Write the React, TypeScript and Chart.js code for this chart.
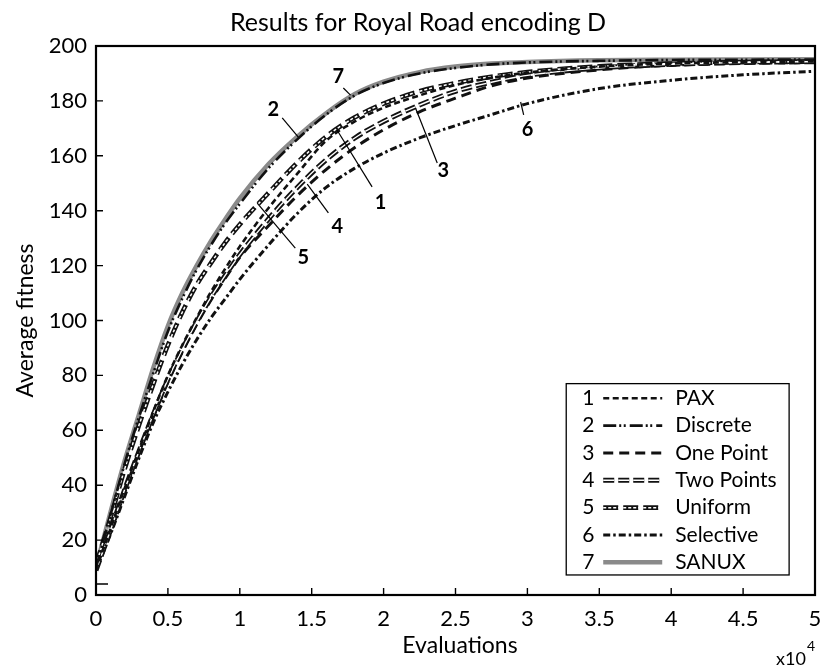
import React, { useEffect, useRef } from 'react';
import { Chart, registerables } from 'chart.js';

Chart.register(...registerables);

// ---- data (evaluations in units of 10^4) ----
const evaluations = [0, 0.1, 0.2, 0.3, 0.4, 0.5, 0.6, 0.7, 0.8, 0.9, 1.0, 1.2, 1.4, 1.6, 1.8, 2.0, 2.25, 2.5, 2.75, 3.0, 3.5, 4.0, 4.5, 5.0];

const paxFitness = [9, 24, 39, 53, 67, 80, 91, 101, 110.5, 119, 127, 141, 153.5, 165.5, 172.5, 177.5, 182, 185.8, 188.4, 190.3, 192.5, 193.6, 194.1, 194.4];
const discreteFitness = [10, 29, 48, 65, 81, 96, 108, 118.5, 127.5, 135.5, 142.5, 155.5, 166, 175, 182, 186.5, 190, 192, 193.3, 194, 194.6, 194.9, 195, 195.1];
const onePointFitness = [9, 23, 38, 52, 65, 77.5, 88.5, 98.5, 107.5, 115.5, 123, 134.5, 145.5, 155, 163, 169.5, 176, 181, 185.5, 188.3, 191.3, 193, 193.7, 194];
const twoPointsFitness = [9, 23.5, 38.5, 52.5, 66, 78.5, 89.5, 99.5, 108.5, 116.5, 124, 137, 148.5, 158.5, 166.5, 172.5, 178.5, 183.5, 186.8, 189.3, 192, 193.3, 194, 194.3];
const uniformFitness = [11, 28, 46, 62, 77, 91, 103, 113, 121, 128.5, 135, 146.5, 157.5, 167, 174, 179, 183.5, 186.5, 188.8, 190.5, 192.6, 193.6, 194.1, 194.4];
const selectiveFitness = [9, 22, 36, 50, 63, 74, 84, 93, 101, 108, 115, 127.5, 139, 148.5, 155.5, 161, 166.5, 171, 175, 179, 184.5, 187.5, 189.5, 190.8];
const sanuxFitness = [10, 30, 49, 66, 83, 98, 110, 120, 129, 137, 144.5, 157, 167, 175.5, 182.5, 187, 190.5, 192.5, 193.6, 194.2, 194.8, 195, 195.1, 195.2];

const seriesIds = ['1', '2', '3', '4', '5', '6', '7'];
const seriesNames = ['PAX', 'Discrete', 'One Point', 'Two Points', 'Uniform', 'Selective', 'SANUX'];
const seriesValues = [paxFitness, discreteFitness, onePointFitness, twoPointsFitness, uniformFitness, selectiveFitness, sanuxFitness];

const yTickValues = [0, 20, 40, 60, 80, 100, 120, 140, 160, 180, 200];
const xTickValues = [0, 0.5, 1, 1.5, 2, 2.5, 3, 3.5, 4, 4.5, 5];
const strayTickValue = 4;

// curve labels: label, text position, leader line (data units)
const annoIds = ['7', '2', '1', '4', '5', '3', '6'];
const annoTextX = [1.685, 1.233, 1.978, 1.678, 1.441, 2.416, 3.001];
const annoTextY = [188.7, 176.7, 142.8, 134.1, 123.1, 154.8, 169.4];
const annoFromX = [1.72, 1.295, 1.92, 1.616, 1.386, 2.373, 2.974];
const annoFromY = [184.7, 173.8, 148.7, 139.2, 126.4, 157.4, 174.9];
const annoToX = [1.77, 1.407, 1.676, 1.469, 1.121, 2.222, 2.953];
const annoToY = [182.1, 166.8, 169.4, 149.7, 142.8, 177.4, 179.6];

const FONT = "Lato, 'Liberation Sans', sans-serif";

type Style = { color: string; width: number; dash: number[]; overlay?: { width: number; dash: number[] } };
const styles: Style[] = [
  { color: '#111', width: 2.6, dash: [6, 3.5] },
  { color: '#111', width: 2.6, dash: [13, 3, 2, 2.5, 2, 4] },
  { color: '#111', width: 3, dash: [10, 6] },
  { color: '#111', width: 5, dash: [11, 4], overlay: { width: 1.4, dash: [11, 4] } },
  { color: '#111', width: 4.6, dash: [15, 5], overlay: { width: 1.5, dash: [3, 2] } },
  { color: '#111', width: 3, dash: [7, 3, 2.5, 3] },
  { color: '#8a8a8a', width: 4.5, dash: [] },
];
const drawOrder = [3, 2, 5, 4, 4, 6, 9];

const decorPlugin = {
  id: 'decor',
  afterDraw(chart: any) {
    const ctx: CanvasRenderingContext2D = chart.ctx;
    const xs = chart.scales.x;
    const ys = chart.scales.y;
    const a = chart.chartArea;
    ctx.save();
    // box
    ctx.strokeStyle = '#000';
    ctx.lineWidth = 2.2;
    ctx.setLineDash([]);
    ctx.strokeRect(a.left, a.top, a.right - a.left, a.bottom - a.top);
    // inward ticks
    ctx.lineWidth = 1.4;
    ctx.beginPath();
    xTickValues.forEach((v) => {
      const px = xs.getPixelForValue(v);
      ctx.moveTo(px, a.bottom);
      ctx.lineTo(px, a.bottom - 7);
    });
    yTickValues.forEach((v) => {
      const py = ys.getPixelForValue(v);
      ctx.moveTo(a.left, py);
      ctx.lineTo(a.left + 7, py);
    });
    const sp = ys.getPixelForValue(strayTickValue);
    ctx.moveTo(a.left, sp);
    ctx.lineTo(a.left + 12, sp);
    ctx.stroke();

    // curve labels
    ctx.lineWidth = 1.2;
    ctx.strokeStyle = '#000';
    ctx.fillStyle = '#000';
    ctx.font = `bold 20px ${FONT}`;
    ctx.textAlign = 'center';
    ctx.textBaseline = 'middle';
    annoIds.forEach((id, i) => {
      ctx.beginPath();
      ctx.moveTo(xs.getPixelForValue(annoFromX[i]), ys.getPixelForValue(annoFromY[i]));
      ctx.lineTo(xs.getPixelForValue(annoToX[i]), ys.getPixelForValue(annoToY[i]));
      ctx.stroke();
      ctx.fillText(id, xs.getPixelForValue(annoTextX[i]), ys.getPixelForValue(annoTextY[i]));
    });

    // legend
    const lx = xs.getPixelForValue(3.27);
    const lr = xs.getPixelForValue(4.82);
    const lt = ys.getPixelForValue(77);
    const lb = ys.getPixelForValue(7.3);
    ctx.fillStyle = '#fff';
    ctx.fillRect(lx, lt, lr - lx, lb - lt);
    ctx.strokeStyle = '#000';
    ctx.lineWidth = 1.3;
    ctx.strokeRect(lx, lt, lr - lx, lb - lt);
    const rowH = (lb - lt) / 7;
    ctx.font = `21px ${FONT}`;
    ctx.textBaseline = 'middle';
    seriesIds.forEach((id, i) => {
      const cy = lt + rowH * (i + 0.5) + 1;
      ctx.fillStyle = '#000';
      ctx.textAlign = 'center';
      ctx.fillText(id, lx + 22, cy);
      ctx.textAlign = 'left';
      ctx.fillText(seriesNames[i], lx + 109, cy);
      const st = styles[i];
      ctx.strokeStyle = st.color;
      ctx.lineWidth = st.width;
      ctx.setLineDash(st.dash);
      ctx.beginPath();
      ctx.moveTo(lx + 37, cy);
      ctx.lineTo(lx + 96, cy);
      ctx.stroke();
      if (st.overlay) {
        ctx.strokeStyle = '#fff';
        ctx.lineWidth = st.overlay.width;
        ctx.setLineDash(st.overlay.dash);
        ctx.beginPath();
        ctx.moveTo(lx + 37, cy);
        ctx.lineTo(lx + 96, cy);
        ctx.stroke();
      }
    });
    ctx.setLineDash([]);

    // titles
    ctx.fillStyle = '#000';
    ctx.textAlign = 'center';
    ctx.textBaseline = 'middle';
    ctx.font = `25px ${FONT}`;
    ctx.fillText('Results for Royal Road encoding D', 418, 23);
    ctx.font = `23px ${FONT}`;
    ctx.fillText('Evaluations', 460, 646);
    ctx.save();
    ctx.translate(26, (a.top + a.bottom) / 2);
    ctx.rotate(-Math.PI / 2);
    ctx.fillText('Average fitness', 0, 0);
    ctx.restore();
    ctx.textAlign = 'left';
    ctx.font = `18px ${FONT}`;
    ctx.fillText('x10', 776, 659);
    ctx.font = `14px ${FONT}`;
    ctx.fillText('4', 807, 646);
    ctx.restore();
  },
};

export default function App() {
  const ref = useRef<HTMLCanvasElement | null>(null);
  useEffect(() => {
    document.body.style.margin = '0';
    if (!ref.current) return;
    const datasets: any[] = [];
    seriesValues.forEach((vals, i) => {
      const st = styles[i];
      const pts = evaluations.map((x, k) => ({ x, y: vals[k] }));
      datasets.push({
        label: seriesNames[i],
        data: pts,
        borderColor: st.color,
        borderWidth: st.width,
        borderDash: st.dash,
        pointRadius: 0,
        fill: false,
        cubicInterpolationMode: 'monotone',
        order: drawOrder[i] + 1,
      });
      if (st.overlay) {
        datasets.push({
          label: seriesNames[i] + ' overlay',
          data: pts,
          borderColor: '#fff',
          borderWidth: st.overlay.width,
          borderDash: st.overlay.dash,
          pointRadius: 0,
          fill: false,
          cubicInterpolationMode: 'monotone',
          order: drawOrder[i],
        });
      }
    });
    const chart = new Chart(ref.current, {
      type: 'line',
      data: { datasets },
      options: {
        animation: false,
        responsive: false,
        layout: { padding: { top: 46, right: 5, left: 0, bottom: 0 } },
        plugins: { legend: { display: false }, title: { display: false }, tooltip: { enabled: false } },
        scales: {
          x: {
            type: 'linear',
            min: 0,
            max: 5,
            afterFit: (s: any) => { s.height = 72; s.paddingLeft = 0; s.paddingRight = 0; },
            afterBuildTicks: (s: any) => { s.ticks = xTickValues.map((v) => ({ value: v })); },
            grid: { display: false, drawTicks: false },
            border: { display: false },
            ticks: { color: '#000', font: { family: FONT, size: 22 }, padding: 11, maxRotation: 0, autoSkip: false, callback: (v: any) => String(v) },
          },
          y: {
            type: 'linear',
            min: 0,
            max: 200,
            afterFit: (s: any) => { s.width = 96; s.paddingTop = 0; s.paddingBottom = 0; },
            afterBuildTicks: (s: any) => { s.ticks = yTickValues.map((v) => ({ value: v })); },
            grid: { display: false, drawTicks: false },
            border: { display: false },
            ticks: { color: '#000', font: { family: FONT, size: 22 }, padding: 9, callback: (v: any) => String(v) },
          },
        },
      },
      plugins: [decorPlugin],
    });
    return () => chart.destroy();
  }, []);
  return <canvas ref={ref} width={820} height={667} style={{ display: 'block' }} />;
}
